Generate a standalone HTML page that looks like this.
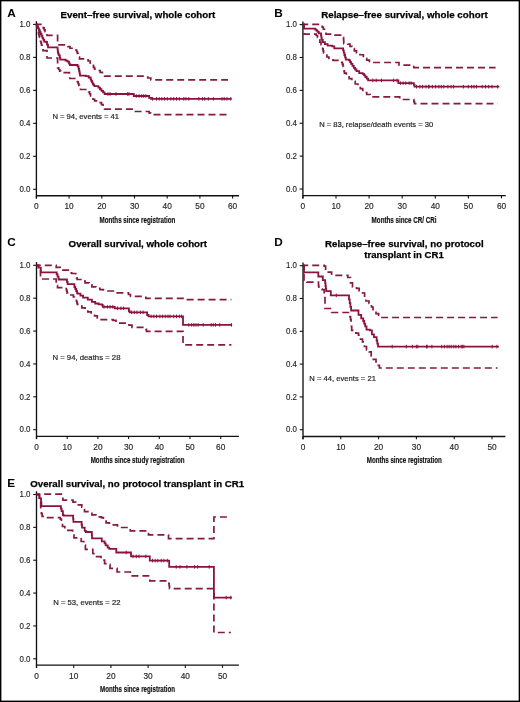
<!DOCTYPE html>
<html><head><meta charset="utf-8"><style>
html,body{margin:0;padding:0;background:#fff;}
svg{display:block;font-family:"Liberation Sans",sans-serif;will-change:transform;}
</style></head><body>
<svg width="520" height="702" viewBox="0 0 520 702">
<rect x="0" y="0" width="520" height="702" fill="#fff"/>
<path d="M36.4,21.2V198.5" stroke="#111" stroke-width="1.35" fill="none"/>
<path d="M36.4,195.7H239" stroke="#111" stroke-width="1.35" fill="none"/>
<path d="M33.1,189.30H36.4" stroke="#111" stroke-width="1.1"/>
<text x="30.4" y="192.0" font-size="8.4" text-anchor="end" font-weight="normal" fill="#262626" textLength="11.0" lengthAdjust="spacingAndGlyphs" stroke="#262626" stroke-width="0.15">0.0</text>
<path d="M33.1,156.32H36.4" stroke="#111" stroke-width="1.1"/>
<text x="30.4" y="159.02" font-size="8.4" text-anchor="end" font-weight="normal" fill="#262626" textLength="11.0" lengthAdjust="spacingAndGlyphs" stroke="#262626" stroke-width="0.15">0.2</text>
<path d="M33.1,123.34H36.4" stroke="#111" stroke-width="1.1"/>
<text x="30.4" y="126.04" font-size="8.4" text-anchor="end" font-weight="normal" fill="#262626" textLength="11.0" lengthAdjust="spacingAndGlyphs" stroke="#262626" stroke-width="0.15">0.4</text>
<path d="M33.1,90.36H36.4" stroke="#111" stroke-width="1.1"/>
<text x="30.4" y="93.06" font-size="8.4" text-anchor="end" font-weight="normal" fill="#262626" textLength="11.0" lengthAdjust="spacingAndGlyphs" stroke="#262626" stroke-width="0.15">0.6</text>
<path d="M33.1,57.38H36.4" stroke="#111" stroke-width="1.1"/>
<text x="30.4" y="60.08" font-size="8.4" text-anchor="end" font-weight="normal" fill="#262626" textLength="11.0" lengthAdjust="spacingAndGlyphs" stroke="#262626" stroke-width="0.15">0.8</text>
<path d="M33.1,24.40H36.4" stroke="#111" stroke-width="1.1"/>
<text x="30.4" y="27.1" font-size="8.4" text-anchor="end" font-weight="normal" fill="#262626" textLength="11.0" lengthAdjust="spacingAndGlyphs" stroke="#262626" stroke-width="0.15">1.0</text>
<path d="M36.40,195.7V198.5" stroke="#111" stroke-width="1.1"/>
<text x="36.4" y="209.3" font-size="8.3" text-anchor="middle" font-weight="normal" fill="#262626" stroke="#262626" stroke-width="0.15">0</text>
<path d="M69.10,195.7V198.5" stroke="#111" stroke-width="1.1"/>
<text x="69.1" y="209.3" font-size="8.3" text-anchor="middle" font-weight="normal" fill="#262626" stroke="#262626" stroke-width="0.15">10</text>
<path d="M101.80,195.7V198.5" stroke="#111" stroke-width="1.1"/>
<text x="101.8" y="209.3" font-size="8.3" text-anchor="middle" font-weight="normal" fill="#262626" stroke="#262626" stroke-width="0.15">20</text>
<path d="M134.50,195.7V198.5" stroke="#111" stroke-width="1.1"/>
<text x="134.5" y="209.3" font-size="8.3" text-anchor="middle" font-weight="normal" fill="#262626" stroke="#262626" stroke-width="0.15">30</text>
<path d="M167.20,195.7V198.5" stroke="#111" stroke-width="1.1"/>
<text x="167.2" y="209.3" font-size="8.3" text-anchor="middle" font-weight="normal" fill="#262626" stroke="#262626" stroke-width="0.15">40</text>
<path d="M199.90,195.7V198.5" stroke="#111" stroke-width="1.1"/>
<text x="199.9" y="209.3" font-size="8.3" text-anchor="middle" font-weight="normal" fill="#262626" stroke="#262626" stroke-width="0.15">50</text>
<path d="M232.60,195.7V198.5" stroke="#111" stroke-width="1.1"/>
<text x="232.6" y="209.3" font-size="8.3" text-anchor="middle" font-weight="normal" fill="#262626" stroke="#262626" stroke-width="0.15">60</text>
<text x="7.2" y="17.0" font-size="11.8" text-anchor="start" font-weight="bold" fill="#000" >A</text>
<text x="60.6" y="18" font-size="9.6" text-anchor="start" font-weight="bold" fill="#000" textLength="154.6" lengthAdjust="spacingAndGlyphs" stroke="#000" stroke-width="0.25">Event–free survival, whole cohort</text>
<text x="99.5" y="222.7" font-size="9.3" text-anchor="start" font-weight="bold" fill="#111" textLength="75.8" lengthAdjust="spacingAndGlyphs" stroke="#111" stroke-width="0.2">Months since registration</text>
<text x="52.4" y="119.1" font-size="7.8" text-anchor="start" font-weight="normal" fill="#262626" textLength="66.7" lengthAdjust="spacingAndGlyphs" stroke="#262626" stroke-width="0.2">N = 94, events = 41</text>
<path d="M36.40,24.30L41.20,24.30H42.17V26.13H43.13V27.97H44.10V29.80H45.07V31.63H46.03V33.47H47.00V35.30L57.60,35.30L57.60,44.80L66.00,44.80H68.00V46.53H70.00V48.27H72.00V50.00L76.00,50.00H76.70V51.76H77.40V53.52H78.10V55.28H78.80V57.04H79.50V58.80L86.00,58.80H88.10V61.00H90.20V63.20H92.30V65.40H93.45V67.30H94.60V69.20H98.00V70.50H100.20V72.40H102.40V74.30H104.60V76.20L144.60,76.20H147.70V78.00H150.80V79.80L228.00,79.80" stroke="#861b3d" stroke-width="1.7" fill="none" stroke-dasharray="7.0 4.00" stroke-dashoffset="1.70"/>
<path d="M36.40,24.50H36.70V26.25H37.00V28.00H37.50V29.89H38.00V31.78H38.50V33.67H39.00V35.57H39.50V37.46H40.00V39.35H40.50V41.24H41.00V43.13H41.50V45.03H42.00V46.92H42.50V48.81H43.00V50.70H47.00V52.60L47.00,58.00L57.60,58.00L57.60,67.90H58.67V69.50H59.73V71.10H60.80V72.70L64.60,72.70H69.40V74.60H69.65V76.55H69.90V78.50L76.00,78.50H76.70V80.22H77.40V81.94H78.10V83.66H78.80V85.38H79.50V87.10H80.50V89.50H87.70V90.00H88.65V91.92H89.60V93.85H90.55V95.78H91.50V97.70H93.05V99.25H94.60V100.80H98.05V102.70H101.50V104.60H103.05V106.90H104.60V109.20L132.30,109.20H135.40V111.50L147.70,111.50H149.25V113.05H150.80V114.60L230.40,114.60" stroke="#861b3d" stroke-width="1.7" fill="none" stroke-dasharray="7.0 4.00" stroke-dashoffset="1.80"/>
<path d="M36.40,24.50H37.26V26.40H38.11V28.30H38.97V30.20H39.82V32.10H40.68V34.00H41.53V35.90H42.39V37.80H43.24V39.70H44.10V41.60H46.00V42.00H47.00V44.60H48.00V47.30L57.40,47.30H57.57V49.03H57.73V50.77H57.90V52.50H58.35V53.95H58.80V55.40H59.80V57.80H60.30V59.70L64.60,59.70H65.60V60.70H67.50V61.60H69.00V63.60H69.90V65.00L76.20,65.00H77.60V66.40H78.60V68.80H79.05V70.75H79.50V72.70H79.75V74.15H80.00V75.60L83.80,75.60H85.80V76.10H88.70V77.50H90.60V79.40H91.30V80.85H92.00V82.30H92.75V83.75H93.50V85.20H94.40V86.20H98.30V86.60H98.50V87.70H100.00V89.25H101.50V90.80H103.05V92.40H104.60V94.00L132.30,94.00H133.80V96.00L146.40,96.00H149.10V97.80H151.10V98.80L231.70,98.80" stroke="#8c1240" stroke-width="1.8" fill="none"/>
<path d="M108.00,92.20V95.80" stroke="#8c1240" stroke-width="1"/>
<path d="M110.00,92.20V95.80" stroke="#8c1240" stroke-width="1"/>
<path d="M116.00,92.20V95.80" stroke="#8c1240" stroke-width="1"/>
<path d="M127.60,92.20V95.80" stroke="#8c1240" stroke-width="1"/>
<path d="M129.00,92.20V95.80" stroke="#8c1240" stroke-width="1"/>
<path d="M136.30,94.20V97.80" stroke="#8c1240" stroke-width="1"/>
<path d="M139.00,94.20V97.80" stroke="#8c1240" stroke-width="1"/>
<path d="M141.70,94.20V97.80" stroke="#8c1240" stroke-width="1"/>
<path d="M143.70,94.20V97.80" stroke="#8c1240" stroke-width="1"/>
<path d="M145.80,94.20V97.80" stroke="#8c1240" stroke-width="1"/>
<path d="M152.50,97.00V100.60" stroke="#8c1240" stroke-width="1"/>
<path d="M156.50,97.00V100.60" stroke="#8c1240" stroke-width="1"/>
<path d="M159.20,97.00V100.60" stroke="#8c1240" stroke-width="1"/>
<path d="M161.90,97.00V100.60" stroke="#8c1240" stroke-width="1"/>
<path d="M164.60,97.00V100.60" stroke="#8c1240" stroke-width="1"/>
<path d="M167.30,97.00V100.60" stroke="#8c1240" stroke-width="1"/>
<path d="M170.80,97.00V100.60" stroke="#8c1240" stroke-width="1"/>
<path d="M173.70,97.00V100.60" stroke="#8c1240" stroke-width="1"/>
<path d="M176.50,97.00V100.60" stroke="#8c1240" stroke-width="1"/>
<path d="M179.40,97.00V100.60" stroke="#8c1240" stroke-width="1"/>
<path d="M183.80,97.00V100.60" stroke="#8c1240" stroke-width="1"/>
<path d="M185.90,97.00V100.60" stroke="#8c1240" stroke-width="1"/>
<path d="M188.80,97.00V100.60" stroke="#8c1240" stroke-width="1"/>
<path d="M198.90,97.00V100.60" stroke="#8c1240" stroke-width="1"/>
<path d="M202.50,97.00V100.60" stroke="#8c1240" stroke-width="1"/>
<path d="M204.70,97.00V100.60" stroke="#8c1240" stroke-width="1"/>
<path d="M208.30,97.00V100.60" stroke="#8c1240" stroke-width="1"/>
<path d="M213.30,97.00V100.60" stroke="#8c1240" stroke-width="1"/>
<path d="M222.00,97.00V100.60" stroke="#8c1240" stroke-width="1"/>
<path d="M224.20,97.00V100.60" stroke="#8c1240" stroke-width="1"/>
<path d="M227.00,97.00V100.60" stroke="#8c1240" stroke-width="1"/>
<path d="M230.70,97.00V100.60" stroke="#8c1240" stroke-width="1"/>
<path d="M302.9,21.400000000000002V198.4" stroke="#111" stroke-width="1.35" fill="none"/>
<path d="M302.9,195.6H505.8" stroke="#111" stroke-width="1.35" fill="none"/>
<path d="M299.59999999999997,189.00H302.9" stroke="#111" stroke-width="1.1"/>
<text x="296.9" y="191.7" font-size="8.4" text-anchor="end" font-weight="normal" fill="#262626" textLength="11.0" lengthAdjust="spacingAndGlyphs" stroke="#262626" stroke-width="0.15">0.0</text>
<path d="M299.59999999999997,156.12H302.9" stroke="#111" stroke-width="1.1"/>
<text x="296.9" y="158.82" font-size="8.4" text-anchor="end" font-weight="normal" fill="#262626" textLength="11.0" lengthAdjust="spacingAndGlyphs" stroke="#262626" stroke-width="0.15">0.2</text>
<path d="M299.59999999999997,123.24H302.9" stroke="#111" stroke-width="1.1"/>
<text x="296.9" y="125.94" font-size="8.4" text-anchor="end" font-weight="normal" fill="#262626" textLength="11.0" lengthAdjust="spacingAndGlyphs" stroke="#262626" stroke-width="0.15">0.4</text>
<path d="M299.59999999999997,90.36H302.9" stroke="#111" stroke-width="1.1"/>
<text x="296.9" y="93.06" font-size="8.4" text-anchor="end" font-weight="normal" fill="#262626" textLength="11.0" lengthAdjust="spacingAndGlyphs" stroke="#262626" stroke-width="0.15">0.6</text>
<path d="M299.59999999999997,57.48H302.9" stroke="#111" stroke-width="1.1"/>
<text x="296.9" y="60.18" font-size="8.4" text-anchor="end" font-weight="normal" fill="#262626" textLength="11.0" lengthAdjust="spacingAndGlyphs" stroke="#262626" stroke-width="0.15">0.8</text>
<path d="M299.59999999999997,24.60H302.9" stroke="#111" stroke-width="1.1"/>
<text x="296.9" y="27.3" font-size="8.4" text-anchor="end" font-weight="normal" fill="#262626" textLength="11.0" lengthAdjust="spacingAndGlyphs" stroke="#262626" stroke-width="0.15">1.0</text>
<path d="M302.90,195.6V198.4" stroke="#111" stroke-width="1.1"/>
<text x="302.9" y="209.2" font-size="8.3" text-anchor="middle" font-weight="normal" fill="#262626" stroke="#262626" stroke-width="0.15">0</text>
<path d="M336.00,195.6V198.4" stroke="#111" stroke-width="1.1"/>
<text x="336.0" y="209.2" font-size="8.3" text-anchor="middle" font-weight="normal" fill="#262626" stroke="#262626" stroke-width="0.15">10</text>
<path d="M369.10,195.6V198.4" stroke="#111" stroke-width="1.1"/>
<text x="369.1" y="209.2" font-size="8.3" text-anchor="middle" font-weight="normal" fill="#262626" stroke="#262626" stroke-width="0.15">20</text>
<path d="M402.20,195.6V198.4" stroke="#111" stroke-width="1.1"/>
<text x="402.2" y="209.2" font-size="8.3" text-anchor="middle" font-weight="normal" fill="#262626" stroke="#262626" stroke-width="0.15">30</text>
<path d="M435.30,195.6V198.4" stroke="#111" stroke-width="1.1"/>
<text x="435.3" y="209.2" font-size="8.3" text-anchor="middle" font-weight="normal" fill="#262626" stroke="#262626" stroke-width="0.15">40</text>
<path d="M468.40,195.6V198.4" stroke="#111" stroke-width="1.1"/>
<text x="468.4" y="209.2" font-size="8.3" text-anchor="middle" font-weight="normal" fill="#262626" stroke="#262626" stroke-width="0.15">50</text>
<path d="M501.50,195.6V198.4" stroke="#111" stroke-width="1.1"/>
<text x="501.5" y="209.2" font-size="8.3" text-anchor="middle" font-weight="normal" fill="#262626" stroke="#262626" stroke-width="0.15">60</text>
<text x="274.3" y="17.2" font-size="11.8" text-anchor="start" font-weight="bold" fill="#000" >B</text>
<text x="321.2" y="18" font-size="9.6" text-anchor="start" font-weight="bold" fill="#000" textLength="166.5" lengthAdjust="spacingAndGlyphs" stroke="#000" stroke-width="0.25">Relapse–free survival, whole cohort</text>
<text x="371.6" y="222.7" font-size="9.3" text-anchor="start" font-weight="bold" fill="#111" textLength="65.0" lengthAdjust="spacingAndGlyphs" stroke="#111" stroke-width="0.2">Months since CR/ CRi</text>
<text x="319.2" y="127.1" font-size="7.8" text-anchor="start" font-weight="normal" fill="#262626" textLength="113.9" lengthAdjust="spacingAndGlyphs" stroke="#262626" stroke-width="0.2">N = 83, relapse/death events = 30</text>
<path d="M302.90,24.40L320.20,24.40H322.20V27.20H323.35V29.25H324.50V31.30H326.00V34.20L334.00,34.20H335.00V35.20L343.30,35.20H343.43V37.30H343.55V39.40H343.68V41.50H343.80V43.60H347.80V44.20H349.98V46.40H352.15V48.60H354.32V50.80H356.50V53.00H359.95V54.75H363.40V56.50H365.05V58.35H366.70V60.20H369.40V62.50L397.00,62.50H399.00V65.20L411.10,65.20H413.80V67.60L495.60,67.60" stroke="#861b3d" stroke-width="1.7" fill="none" stroke-dasharray="7.0 4.00" stroke-dashoffset="1.70"/>
<path d="M302.90,24.50L304.00,24.50L304.00,34.20L311.40,34.20H316.20V35.50H317.50V37.50H318.68V39.85H319.85V42.20H321.02V44.55H322.20V46.90H322.67V48.93H323.13V50.97H323.60V53.00H325.25V55.00H326.90V57.00H328.90V58.40H333.00V60.40H339.00V61.10H341.70V62.40H342.40V64.45H343.10V66.50H343.53V68.73H343.97V70.97H344.40V73.20H346.40V75.90H349.10V78.60H351.80V81.30H355.20V84.00H357.90V86.60H360.30V88.55H362.70V90.50H364.70V92.50H366.70V94.50H370.10V96.80L397.70,96.80H399.70V99.50L413.20,99.50H413.85V101.55H414.50V103.60L497.70,103.60" stroke="#861b3d" stroke-width="1.7" fill="none" stroke-dasharray="7.0 4.00" stroke-dashoffset="1.30"/>
<path d="M302.90,24.50L304.00,24.50L304.00,28.70L315.30,28.70L315.30,29.60L316.50,29.60L316.50,30.70L317.60,30.70L317.60,31.80L318.80,31.80L318.80,33.30L319.90,33.30H321.00V35.30H321.35V37.60H321.70V39.90H322.80V42.20H324.90V44.20H327.60V45.60H332.30V46.30H334.30V48.30L342.40,48.30H343.10V50.30H343.75V52.65H344.40V55.00H345.10V57.35H345.80V59.70H349.10V60.40H350.10V62.10H351.10V63.80H352.45V65.80H353.80V67.80H355.15V69.50H356.50V71.20H359.20V73.20H362.70V73.80H364.05V75.40H365.40V77.00H366.75V78.70H368.10V80.40L397.00,80.40H398.40V83.10L413.20,83.10H413.85V84.90H414.50V86.70L499.30,86.70" stroke="#8c1240" stroke-width="1.8" fill="none"/>
<path d="M372.80,78.60V82.20" stroke="#8c1240" stroke-width="1"/>
<path d="M376.20,78.60V82.20" stroke="#8c1240" stroke-width="1"/>
<path d="M381.50,78.60V82.20" stroke="#8c1240" stroke-width="1"/>
<path d="M393.60,78.60V82.20" stroke="#8c1240" stroke-width="1"/>
<path d="M397.00,78.60V82.20" stroke="#8c1240" stroke-width="1"/>
<path d="M400.40,81.30V84.90" stroke="#8c1240" stroke-width="1"/>
<path d="M403.10,81.30V84.90" stroke="#8c1240" stroke-width="1"/>
<path d="M405.80,81.30V84.90" stroke="#8c1240" stroke-width="1"/>
<path d="M409.10,81.30V84.90" stroke="#8c1240" stroke-width="1"/>
<path d="M411.10,81.30V84.90" stroke="#8c1240" stroke-width="1"/>
<path d="M416.50,84.90V88.50" stroke="#8c1240" stroke-width="1"/>
<path d="M419.90,84.90V88.50" stroke="#8c1240" stroke-width="1"/>
<path d="M422.60,84.90V88.50" stroke="#8c1240" stroke-width="1"/>
<path d="M426.00,84.90V88.50" stroke="#8c1240" stroke-width="1"/>
<path d="M428.60,84.90V88.50" stroke="#8c1240" stroke-width="1"/>
<path d="M429.10,84.90V88.50" stroke="#8c1240" stroke-width="1"/>
<path d="M432.40,84.90V88.50" stroke="#8c1240" stroke-width="1"/>
<path d="M435.60,84.90V88.50" stroke="#8c1240" stroke-width="1"/>
<path d="M438.90,84.90V88.50" stroke="#8c1240" stroke-width="1"/>
<path d="M441.30,84.90V88.50" stroke="#8c1240" stroke-width="1"/>
<path d="M443.80,84.90V88.50" stroke="#8c1240" stroke-width="1"/>
<path d="M447.90,84.90V88.50" stroke="#8c1240" stroke-width="1"/>
<path d="M451.10,84.90V88.50" stroke="#8c1240" stroke-width="1"/>
<path d="M453.60,84.90V88.50" stroke="#8c1240" stroke-width="1"/>
<path d="M463.40,84.90V88.50" stroke="#8c1240" stroke-width="1"/>
<path d="M468.30,84.90V88.50" stroke="#8c1240" stroke-width="1"/>
<path d="M471.60,84.90V88.50" stroke="#8c1240" stroke-width="1"/>
<path d="M474.00,84.90V88.50" stroke="#8c1240" stroke-width="1"/>
<path d="M476.50,84.90V88.50" stroke="#8c1240" stroke-width="1"/>
<path d="M482.20,84.90V88.50" stroke="#8c1240" stroke-width="1"/>
<path d="M485.50,84.90V88.50" stroke="#8c1240" stroke-width="1"/>
<path d="M488.70,84.90V88.50" stroke="#8c1240" stroke-width="1"/>
<path d="M492.00,84.90V88.50" stroke="#8c1240" stroke-width="1"/>
<path d="M497.70,84.90V88.50" stroke="#8c1240" stroke-width="1"/>
<path d="M36.5,262.1V439.1" stroke="#111" stroke-width="1.35" fill="none"/>
<path d="M36.5,436.3H238.9" stroke="#111" stroke-width="1.35" fill="none"/>
<path d="M33.2,429.70H36.5" stroke="#111" stroke-width="1.1"/>
<text x="30.5" y="432.4" font-size="8.4" text-anchor="end" font-weight="normal" fill="#262626" textLength="11.0" lengthAdjust="spacingAndGlyphs" stroke="#262626" stroke-width="0.15">0.0</text>
<path d="M33.2,396.82H36.5" stroke="#111" stroke-width="1.1"/>
<text x="30.5" y="399.52" font-size="8.4" text-anchor="end" font-weight="normal" fill="#262626" textLength="11.0" lengthAdjust="spacingAndGlyphs" stroke="#262626" stroke-width="0.15">0.2</text>
<path d="M33.2,363.94H36.5" stroke="#111" stroke-width="1.1"/>
<text x="30.5" y="366.64" font-size="8.4" text-anchor="end" font-weight="normal" fill="#262626" textLength="11.0" lengthAdjust="spacingAndGlyphs" stroke="#262626" stroke-width="0.15">0.4</text>
<path d="M33.2,331.06H36.5" stroke="#111" stroke-width="1.1"/>
<text x="30.5" y="333.76" font-size="8.4" text-anchor="end" font-weight="normal" fill="#262626" textLength="11.0" lengthAdjust="spacingAndGlyphs" stroke="#262626" stroke-width="0.15">0.6</text>
<path d="M33.2,298.18H36.5" stroke="#111" stroke-width="1.1"/>
<text x="30.5" y="300.88" font-size="8.4" text-anchor="end" font-weight="normal" fill="#262626" textLength="11.0" lengthAdjust="spacingAndGlyphs" stroke="#262626" stroke-width="0.15">0.8</text>
<path d="M33.2,265.30H36.5" stroke="#111" stroke-width="1.1"/>
<text x="30.5" y="268.0" font-size="8.4" text-anchor="end" font-weight="normal" fill="#262626" textLength="11.0" lengthAdjust="spacingAndGlyphs" stroke="#262626" stroke-width="0.15">1.0</text>
<path d="M36.50,436.3V439.1" stroke="#111" stroke-width="1.1"/>
<text x="36.5" y="449.9" font-size="8.3" text-anchor="middle" font-weight="normal" fill="#262626" stroke="#262626" stroke-width="0.15">0</text>
<path d="M67.20,436.3V439.1" stroke="#111" stroke-width="1.1"/>
<text x="67.2" y="449.9" font-size="8.3" text-anchor="middle" font-weight="normal" fill="#262626" stroke="#262626" stroke-width="0.15">10</text>
<path d="M97.90,436.3V439.1" stroke="#111" stroke-width="1.1"/>
<text x="97.9" y="449.9" font-size="8.3" text-anchor="middle" font-weight="normal" fill="#262626" stroke="#262626" stroke-width="0.15">20</text>
<path d="M128.60,436.3V439.1" stroke="#111" stroke-width="1.1"/>
<text x="128.6" y="449.9" font-size="8.3" text-anchor="middle" font-weight="normal" fill="#262626" stroke="#262626" stroke-width="0.15">30</text>
<path d="M159.30,436.3V439.1" stroke="#111" stroke-width="1.1"/>
<text x="159.3" y="449.9" font-size="8.3" text-anchor="middle" font-weight="normal" fill="#262626" stroke="#262626" stroke-width="0.15">40</text>
<path d="M190.00,436.3V439.1" stroke="#111" stroke-width="1.1"/>
<text x="190.0" y="449.9" font-size="8.3" text-anchor="middle" font-weight="normal" fill="#262626" stroke="#262626" stroke-width="0.15">50</text>
<path d="M220.70,436.3V439.1" stroke="#111" stroke-width="1.1"/>
<text x="220.7" y="449.9" font-size="8.3" text-anchor="middle" font-weight="normal" fill="#262626" stroke="#262626" stroke-width="0.15">60</text>
<text x="7.2" y="246.1" font-size="11.8" text-anchor="start" font-weight="bold" fill="#000" >C</text>
<text x="68.6" y="246.7" font-size="9.6" text-anchor="start" font-weight="bold" fill="#000" textLength="138.5" lengthAdjust="spacingAndGlyphs" stroke="#000" stroke-width="0.25">Overall survival, whole cohort</text>
<text x="90.7" y="463.1" font-size="9.3" text-anchor="start" font-weight="bold" fill="#111" textLength="93.8" lengthAdjust="spacingAndGlyphs" stroke="#111" stroke-width="0.2">Months since study registration</text>
<text x="52.4" y="360" font-size="7.8" text-anchor="start" font-weight="normal" fill="#262626" textLength="68.1" lengthAdjust="spacingAndGlyphs" stroke="#262626" stroke-width="0.2">N = 94, deaths = 28</text>
<path d="M36.60,265.40L55.00,265.40H56.20V267.40H60.20V270.10L65.00,270.10H68.30V272.80H71.70V273.50H75.70V276.20H76.40V277.85H77.10V279.50L82.50,279.50H83.80V281.20H85.10V282.90H89.20V284.90H91.90V286.90H95.90V288.30H100.00V289.60H103.40V291.00L114.80,291.00H116.00V292.80L126.00,292.80H128.50V294.50H130.50V296.40L144.00,296.40H145.80V298.40L184.00,298.40L184.00,299.60L231.40,299.60" stroke="#861b3d" stroke-width="1.7" fill="none" stroke-dasharray="7.0 4.00" stroke-dashoffset="2.80"/>
<path d="M36.60,265.40L38.40,265.40L38.40,267.60L40.50,267.60L40.50,279.00L56.20,279.00L56.20,283.60H56.85V285.60H57.50V287.60L62.90,287.60H66.30V289.60H66.73V291.40H67.17V293.20H67.60V295.00L72.40,295.00H73.40V297.00H74.40V299.00H76.40V301.00H76.83V302.60H77.27V304.20H77.70V305.80H81.80V307.80H85.10V309.80H87.80V311.80H91.20V313.90H94.60V315.90H97.30V317.90H100.00V319.70L110.00,319.70H113.00V320.40H116.00V323.10L127.00,323.10H129.00V325.10H132.00V327.40L145.00,327.40H145.75V329.40H146.50V331.40L183.00,331.40L183.00,344.80L231.40,344.80" stroke="#861b3d" stroke-width="1.7" fill="none" stroke-dasharray="7.0 4.00" stroke-dashoffset="3.00"/>
<path d="M36.60,265.40L38.40,265.40L38.40,267.60L40.80,267.60L40.80,272.30L55.80,272.30H56.70V274.47H57.60V276.63H58.50V278.80H59.00V279.50L66.30,279.50H66.95V281.85H67.60V284.20L73.00,284.20H74.40V287.00H75.30V289.00H76.20V291.00H77.10V293.00H77.50V293.70H80.40V295.60H83.10V297.70H87.80V299.70H91.90V301.80H95.20V303.50H98.60V304.40H102.00V304.90H102.70V306.90L113.50,306.90H114.80V308.30L127.60,308.30H128.90V311.00H129.60V312.30L145.80,312.30H147.10V315.00H148.50V316.40L183.00,316.40L183.00,324.90L232.10,324.90" stroke="#8c1240" stroke-width="1.8" fill="none"/>
<path d="M104.00,305.10V308.70" stroke="#8c1240" stroke-width="1"/>
<path d="M107.40,305.10V308.70" stroke="#8c1240" stroke-width="1"/>
<path d="M110.10,305.10V308.70" stroke="#8c1240" stroke-width="1"/>
<path d="M112.80,305.10V308.70" stroke="#8c1240" stroke-width="1"/>
<path d="M117.50,306.50V310.10" stroke="#8c1240" stroke-width="1"/>
<path d="M120.90,306.50V310.10" stroke="#8c1240" stroke-width="1"/>
<path d="M123.60,306.50V310.10" stroke="#8c1240" stroke-width="1"/>
<path d="M131.60,310.50V314.10" stroke="#8c1240" stroke-width="1"/>
<path d="M134.30,310.50V314.10" stroke="#8c1240" stroke-width="1"/>
<path d="M137.00,310.50V314.10" stroke="#8c1240" stroke-width="1"/>
<path d="M140.40,310.50V314.10" stroke="#8c1240" stroke-width="1"/>
<path d="M143.10,310.50V314.10" stroke="#8c1240" stroke-width="1"/>
<path d="M151.10,314.60V318.20" stroke="#8c1240" stroke-width="1"/>
<path d="M153.80,314.60V318.20" stroke="#8c1240" stroke-width="1"/>
<path d="M156.50,314.60V318.20" stroke="#8c1240" stroke-width="1"/>
<path d="M159.90,314.60V318.20" stroke="#8c1240" stroke-width="1"/>
<path d="M162.60,314.60V318.20" stroke="#8c1240" stroke-width="1"/>
<path d="M165.30,314.60V318.20" stroke="#8c1240" stroke-width="1"/>
<path d="M168.00,314.60V318.20" stroke="#8c1240" stroke-width="1"/>
<path d="M170.00,314.60V318.20" stroke="#8c1240" stroke-width="1"/>
<path d="M173.70,314.60V318.20" stroke="#8c1240" stroke-width="1"/>
<path d="M176.50,314.60V318.20" stroke="#8c1240" stroke-width="1"/>
<path d="M179.40,314.60V318.20" stroke="#8c1240" stroke-width="1"/>
<path d="M181.60,314.60V318.20" stroke="#8c1240" stroke-width="1"/>
<path d="M188.80,323.10V326.70" stroke="#8c1240" stroke-width="1"/>
<path d="M191.70,323.10V326.70" stroke="#8c1240" stroke-width="1"/>
<path d="M193.90,323.10V326.70" stroke="#8c1240" stroke-width="1"/>
<path d="M196.00,323.10V326.70" stroke="#8c1240" stroke-width="1"/>
<path d="M198.20,323.10V326.70" stroke="#8c1240" stroke-width="1"/>
<path d="M203.20,323.10V326.70" stroke="#8c1240" stroke-width="1"/>
<path d="M211.20,323.10V326.70" stroke="#8c1240" stroke-width="1"/>
<path d="M213.30,323.10V326.70" stroke="#8c1240" stroke-width="1"/>
<path d="M215.50,323.10V326.70" stroke="#8c1240" stroke-width="1"/>
<path d="M219.80,323.10V326.70" stroke="#8c1240" stroke-width="1"/>
<path d="M231.40,323.10V326.70" stroke="#8c1240" stroke-width="1"/>
<path d="M303.0,262.5V439.3" stroke="#111" stroke-width="1.35" fill="none"/>
<path d="M303.0,436.5H505.4" stroke="#111" stroke-width="1.35" fill="none"/>
<path d="M299.7,429.70H303.0" stroke="#111" stroke-width="1.1"/>
<text x="297.0" y="432.4" font-size="8.4" text-anchor="end" font-weight="normal" fill="#262626" textLength="11.0" lengthAdjust="spacingAndGlyphs" stroke="#262626" stroke-width="0.15">0.0</text>
<path d="M299.7,396.90H303.0" stroke="#111" stroke-width="1.1"/>
<text x="297.0" y="399.6" font-size="8.4" text-anchor="end" font-weight="normal" fill="#262626" textLength="11.0" lengthAdjust="spacingAndGlyphs" stroke="#262626" stroke-width="0.15">0.2</text>
<path d="M299.7,364.10H303.0" stroke="#111" stroke-width="1.1"/>
<text x="297.0" y="366.8" font-size="8.4" text-anchor="end" font-weight="normal" fill="#262626" textLength="11.0" lengthAdjust="spacingAndGlyphs" stroke="#262626" stroke-width="0.15">0.4</text>
<path d="M299.7,331.30H303.0" stroke="#111" stroke-width="1.1"/>
<text x="297.0" y="334.0" font-size="8.4" text-anchor="end" font-weight="normal" fill="#262626" textLength="11.0" lengthAdjust="spacingAndGlyphs" stroke="#262626" stroke-width="0.15">0.6</text>
<path d="M299.7,298.50H303.0" stroke="#111" stroke-width="1.1"/>
<text x="297.0" y="301.2" font-size="8.4" text-anchor="end" font-weight="normal" fill="#262626" textLength="11.0" lengthAdjust="spacingAndGlyphs" stroke="#262626" stroke-width="0.15">0.8</text>
<path d="M299.7,265.70H303.0" stroke="#111" stroke-width="1.1"/>
<text x="297.0" y="268.4" font-size="8.4" text-anchor="end" font-weight="normal" fill="#262626" textLength="11.0" lengthAdjust="spacingAndGlyphs" stroke="#262626" stroke-width="0.15">1.0</text>
<path d="M303.00,436.5V439.3" stroke="#111" stroke-width="1.1"/>
<text x="303.0" y="450.1" font-size="8.3" text-anchor="middle" font-weight="normal" fill="#262626" stroke="#262626" stroke-width="0.15">0</text>
<path d="M340.80,436.5V439.3" stroke="#111" stroke-width="1.1"/>
<text x="340.8" y="450.1" font-size="8.3" text-anchor="middle" font-weight="normal" fill="#262626" stroke="#262626" stroke-width="0.15">10</text>
<path d="M378.60,436.5V439.3" stroke="#111" stroke-width="1.1"/>
<text x="378.6" y="450.1" font-size="8.3" text-anchor="middle" font-weight="normal" fill="#262626" stroke="#262626" stroke-width="0.15">20</text>
<path d="M416.40,436.5V439.3" stroke="#111" stroke-width="1.1"/>
<text x="416.4" y="450.1" font-size="8.3" text-anchor="middle" font-weight="normal" fill="#262626" stroke="#262626" stroke-width="0.15">30</text>
<path d="M454.20,436.5V439.3" stroke="#111" stroke-width="1.1"/>
<text x="454.2" y="450.1" font-size="8.3" text-anchor="middle" font-weight="normal" fill="#262626" stroke="#262626" stroke-width="0.15">40</text>
<path d="M492.00,436.5V439.3" stroke="#111" stroke-width="1.1"/>
<text x="492.0" y="450.1" font-size="8.3" text-anchor="middle" font-weight="normal" fill="#262626" stroke="#262626" stroke-width="0.15">50</text>
<text x="274.3" y="246.3" font-size="11.8" text-anchor="start" font-weight="bold" fill="#000" >D</text>
<text x="325.0" y="246.5" font-size="9.6" text-anchor="start" font-weight="bold" fill="#000" textLength="158.6" lengthAdjust="spacingAndGlyphs" stroke="#000" stroke-width="0.25">Relapse–free survival, no protocol</text>
<text x="364.2" y="258.4" font-size="9.6" text-anchor="start" font-weight="bold" fill="#000" textLength="79.6" lengthAdjust="spacingAndGlyphs" stroke="#000" stroke-width="0.25">transplant in CR1</text>
<text x="366.8" y="463.1" font-size="9.3" text-anchor="start" font-weight="bold" fill="#111" textLength="75.0" lengthAdjust="spacingAndGlyphs" stroke="#111" stroke-width="0.2">Months since registration</text>
<text x="309.3" y="381.1" font-size="7.8" text-anchor="start" font-weight="normal" fill="#262626" textLength="66.6" lengthAdjust="spacingAndGlyphs" stroke="#262626" stroke-width="0.2">N = 44, events = 21</text>
<path d="M303.00,265.40L320.90,265.40H324.20V266.10H325.60V270.80H328.30V272.10H331.60V275.30L343.10,275.30H347.80V277.50H350.50V279.50L350.50,282.90H352.50V286.90H356.50V288.30H359.20V291.00H362.60V293.00H364.60V297.00H366.00V301.00H369.00V303.50H371.50V307.00H373.00V311.00H376.00V313.60H378.60V317.50L497.60,317.50" stroke="#861b3d" stroke-width="1.7" fill="none" stroke-dasharray="7.0 4.00" stroke-dashoffset="1.80"/>
<path d="M303.00,265.70L304.00,265.70L304.00,280.20H306.70V282.20L318.20,282.20H318.50V285.60H318.80V289.00H322.20V289.60H324.20V294.30L325.00,294.30L325.00,308.50L331.60,308.50L331.60,312.50L348.50,312.50H350.00V316.90H350.55V319.60H351.10V322.30H351.40V326.35H351.70V330.40H355.80V333.10H358.50V335.10H360.50V339.10H362.50V341.80H364.50V346.50H366.50V349.90H369.20V351.90H371.20V356.00H373.30V359.30H376.00V361.90H377.40V365.30H379.40V368.00L497.60,368.00" stroke="#861b3d" stroke-width="1.7" fill="none" stroke-dasharray="7.0 4.00" stroke-dashoffset="1.90"/>
<path d="M303.00,265.70L304.00,265.70L304.00,272.30L318.30,272.30L318.30,276.50L322.80,276.50L322.80,280.20L324.80,280.20H325.15V283.10H325.50V286.00H325.85V288.55H326.20V291.10L330.80,291.10L330.80,295.30L347.10,295.30H349.00V299.40H349.70V303.10H350.40V306.80H351.10V310.50L355.20,310.50H358.50V314.90H361.20V318.30H363.20V321.00H364.20V323.65H365.20V326.30H366.50V329.70H369.90V330.40H371.90V334.40H373.90V337.10H376.60V340.50H377.30V343.55H378.00V346.60L498.90,346.60" stroke="#8c1240" stroke-width="1.8" fill="none"/>
<path d="M336.30,293.60V297.20" stroke="#8c1240" stroke-width="1"/>
<path d="M392.20,344.80V348.40" stroke="#8c1240" stroke-width="1"/>
<path d="M406.30,344.80V348.40" stroke="#8c1240" stroke-width="1"/>
<path d="M412.40,344.80V348.40" stroke="#8c1240" stroke-width="1"/>
<path d="M416.40,344.80V348.40" stroke="#8c1240" stroke-width="1"/>
<path d="M417.80,344.80V348.40" stroke="#8c1240" stroke-width="1"/>
<path d="M426.50,344.80V348.40" stroke="#8c1240" stroke-width="1"/>
<path d="M427.20,344.80V348.40" stroke="#8c1240" stroke-width="1"/>
<path d="M431.90,344.80V348.40" stroke="#8c1240" stroke-width="1"/>
<path d="M441.70,344.80V348.40" stroke="#8c1240" stroke-width="1"/>
<path d="M444.40,344.80V348.40" stroke="#8c1240" stroke-width="1"/>
<path d="M447.10,344.80V348.40" stroke="#8c1240" stroke-width="1"/>
<path d="M449.10,344.80V348.40" stroke="#8c1240" stroke-width="1"/>
<path d="M451.20,344.80V348.40" stroke="#8c1240" stroke-width="1"/>
<path d="M453.80,344.80V348.40" stroke="#8c1240" stroke-width="1"/>
<path d="M455.90,344.80V348.40" stroke="#8c1240" stroke-width="1"/>
<path d="M458.60,344.80V348.40" stroke="#8c1240" stroke-width="1"/>
<path d="M461.20,344.80V348.40" stroke="#8c1240" stroke-width="1"/>
<path d="M462.60,344.80V348.40" stroke="#8c1240" stroke-width="1"/>
<path d="M463.90,344.80V348.40" stroke="#8c1240" stroke-width="1"/>
<path d="M492.20,344.80V348.40" stroke="#8c1240" stroke-width="1"/>
<path d="M496.90,344.80V348.40" stroke="#8c1240" stroke-width="1"/>
<path d="M36.5,491.3V667.9" stroke="#111" stroke-width="1.35" fill="none"/>
<path d="M36.5,665.1H238.9" stroke="#111" stroke-width="1.35" fill="none"/>
<path d="M33.2,658.80H36.5" stroke="#111" stroke-width="1.1"/>
<text x="30.5" y="661.5" font-size="8.4" text-anchor="end" font-weight="normal" fill="#262626" textLength="11.0" lengthAdjust="spacingAndGlyphs" stroke="#262626" stroke-width="0.15">0.0</text>
<path d="M33.2,625.94H36.5" stroke="#111" stroke-width="1.1"/>
<text x="30.5" y="628.64" font-size="8.4" text-anchor="end" font-weight="normal" fill="#262626" textLength="11.0" lengthAdjust="spacingAndGlyphs" stroke="#262626" stroke-width="0.15">0.2</text>
<path d="M33.2,593.08H36.5" stroke="#111" stroke-width="1.1"/>
<text x="30.5" y="595.78" font-size="8.4" text-anchor="end" font-weight="normal" fill="#262626" textLength="11.0" lengthAdjust="spacingAndGlyphs" stroke="#262626" stroke-width="0.15">0.4</text>
<path d="M33.2,560.22H36.5" stroke="#111" stroke-width="1.1"/>
<text x="30.5" y="562.92" font-size="8.4" text-anchor="end" font-weight="normal" fill="#262626" textLength="11.0" lengthAdjust="spacingAndGlyphs" stroke="#262626" stroke-width="0.15">0.6</text>
<path d="M33.2,527.36H36.5" stroke="#111" stroke-width="1.1"/>
<text x="30.5" y="530.06" font-size="8.4" text-anchor="end" font-weight="normal" fill="#262626" textLength="11.0" lengthAdjust="spacingAndGlyphs" stroke="#262626" stroke-width="0.15">0.8</text>
<path d="M33.2,494.50H36.5" stroke="#111" stroke-width="1.1"/>
<text x="30.5" y="497.2" font-size="8.4" text-anchor="end" font-weight="normal" fill="#262626" textLength="11.0" lengthAdjust="spacingAndGlyphs" stroke="#262626" stroke-width="0.15">1.0</text>
<path d="M36.50,665.1V667.9" stroke="#111" stroke-width="1.1"/>
<text x="36.5" y="678.7" font-size="8.3" text-anchor="middle" font-weight="normal" fill="#262626" stroke="#262626" stroke-width="0.15">0</text>
<path d="M73.70,665.1V667.9" stroke="#111" stroke-width="1.1"/>
<text x="73.7" y="678.7" font-size="8.3" text-anchor="middle" font-weight="normal" fill="#262626" stroke="#262626" stroke-width="0.15">10</text>
<path d="M110.90,665.1V667.9" stroke="#111" stroke-width="1.1"/>
<text x="110.9" y="678.7" font-size="8.3" text-anchor="middle" font-weight="normal" fill="#262626" stroke="#262626" stroke-width="0.15">20</text>
<path d="M148.10,665.1V667.9" stroke="#111" stroke-width="1.1"/>
<text x="148.1" y="678.7" font-size="8.3" text-anchor="middle" font-weight="normal" fill="#262626" stroke="#262626" stroke-width="0.15">30</text>
<path d="M185.30,665.1V667.9" stroke="#111" stroke-width="1.1"/>
<text x="185.3" y="678.7" font-size="8.3" text-anchor="middle" font-weight="normal" fill="#262626" stroke="#262626" stroke-width="0.15">40</text>
<path d="M222.50,665.1V667.9" stroke="#111" stroke-width="1.1"/>
<text x="222.5" y="678.7" font-size="8.3" text-anchor="middle" font-weight="normal" fill="#262626" stroke="#262626" stroke-width="0.15">50</text>
<text x="7.3" y="486.8" font-size="11.8" text-anchor="start" font-weight="bold" fill="#000" >E</text>
<text x="30.2" y="486.6" font-size="9.6" text-anchor="start" font-weight="bold" fill="#000" textLength="214.0" lengthAdjust="spacingAndGlyphs" stroke="#000" stroke-width="0.25">Overall survival, no protocol transplant in CR1</text>
<text x="100.1" y="692.2" font-size="9.3" text-anchor="start" font-weight="bold" fill="#111" textLength="75.0" lengthAdjust="spacingAndGlyphs" stroke="#111" stroke-width="0.2">Months since registration</text>
<text x="53.2" y="605.1" font-size="7.8" text-anchor="start" font-weight="normal" fill="#262626" textLength="67.3" lengthAdjust="spacingAndGlyphs" stroke="#262626" stroke-width="0.2">N = 53, events = 22</text>
<path d="M36.60,494.10L58.20,494.10H62.30V496.70H62.90V500.10L69.70,500.10H73.00V502.10H75.70V504.80L81.10,504.80H81.80V507.15H82.50V509.50H84.50V511.60L90.50,511.60H91.90V514.90H95.90V516.90H101.30V517.60H103.40V519.40H106.10V522.80H109.40V524.80L114.80,524.80H117.50V527.50L128.90,527.50H130.30V530.90L147.10,530.90H148.50V534.90L167.70,534.90H168.50V538.70L213.90,538.70L213.90,517.00L226.90,517.00" stroke="#861b3d" stroke-width="1.7" fill="none" stroke-dasharray="7.0 4.00" stroke-dashoffset="3.40"/>
<path d="M36.60,494.70L39.40,494.70L39.40,501.50H40.70V502.80L40.70,510.90H41.40V513.60H42.10V516.30H44.10V517.60L56.20,517.60H60.30V519.20H61.40V522.85H62.50V526.50H64.80V530.30L71.70,530.30H72.60V533.80H74.00V537.90L79.40,537.90H81.20V541.50H83.80V545.20H85.40V545.30L85.40,549.40L90.10,549.40H92.80V553.50H93.80V556.60L100.20,556.60H101.00V560.10H104.60V563.60H106.90V564.40H110.00V568.30L115.10,568.30H117.10V572.00L128.30,572.00H130.30V575.90L146.40,575.90H148.50V577.30H149.80V580.80L168.50,580.80H168.83V583.40H169.17V586.00H169.50V588.60L213.90,588.60L213.90,632.50L230.90,632.50" stroke="#861b3d" stroke-width="1.7" fill="none" stroke-dasharray="7.0 4.00" stroke-dashoffset="0.00"/>
<path d="M36.60,494.70L39.40,494.70L39.40,498.10H40.70V498.80H41.05V502.50H41.40V506.20L60.20,506.20H60.90V508.70H61.60V511.20H62.90V515.00H63.60V515.60L72.80,515.60H73.10V518.75H73.40V521.90L81.20,521.90H81.60V524.75H82.00V527.60H84.70V530.90H85.90V532.00L91.60,532.00H91.80V535.15H92.00V538.30L101.40,538.30H101.80V541.30H104.60V543.30H105.70V545.30H107.70V547.60H109.30V548.80L116.30,548.80L116.30,552.50H130.30V552.40H131.00V556.40L147.80,556.40H149.80V560.60L169.20,560.60L169.20,566.90L213.90,566.90L213.90,597.60L231.90,597.60" stroke="#8c1240" stroke-width="1.8" fill="none"/>
<path d="M126.20,550.60V554.20" stroke="#8c1240" stroke-width="1"/>
<path d="M133.00,554.60V558.20" stroke="#8c1240" stroke-width="1"/>
<path d="M136.30,554.60V558.20" stroke="#8c1240" stroke-width="1"/>
<path d="M139.00,554.60V558.20" stroke="#8c1240" stroke-width="1"/>
<path d="M145.80,554.60V558.20" stroke="#8c1240" stroke-width="1"/>
<path d="M152.50,558.80V562.40" stroke="#8c1240" stroke-width="1"/>
<path d="M155.20,558.80V562.40" stroke="#8c1240" stroke-width="1"/>
<path d="M157.90,558.80V562.40" stroke="#8c1240" stroke-width="1"/>
<path d="M161.20,558.80V562.40" stroke="#8c1240" stroke-width="1"/>
<path d="M163.90,558.80V562.40" stroke="#8c1240" stroke-width="1"/>
<path d="M167.30,558.80V562.40" stroke="#8c1240" stroke-width="1"/>
<path d="M176.20,565.10V568.70" stroke="#8c1240" stroke-width="1"/>
<path d="M180.00,565.10V568.70" stroke="#8c1240" stroke-width="1"/>
<path d="M186.90,565.10V568.70" stroke="#8c1240" stroke-width="1"/>
<path d="M194.60,565.10V568.70" stroke="#8c1240" stroke-width="1"/>
<path d="M197.70,565.10V568.70" stroke="#8c1240" stroke-width="1"/>
<path d="M209.20,565.10V568.70" stroke="#8c1240" stroke-width="1"/>
<path d="M226.20,595.80V599.40" stroke="#8c1240" stroke-width="1"/>
<path d="M230.80,595.80V599.40" stroke="#8c1240" stroke-width="1"/>
<rect x="0.65" y="0.6" width="518.75" height="700.75" fill="none" stroke="#000" stroke-width="1.5"/>
</svg>
</body></html>
